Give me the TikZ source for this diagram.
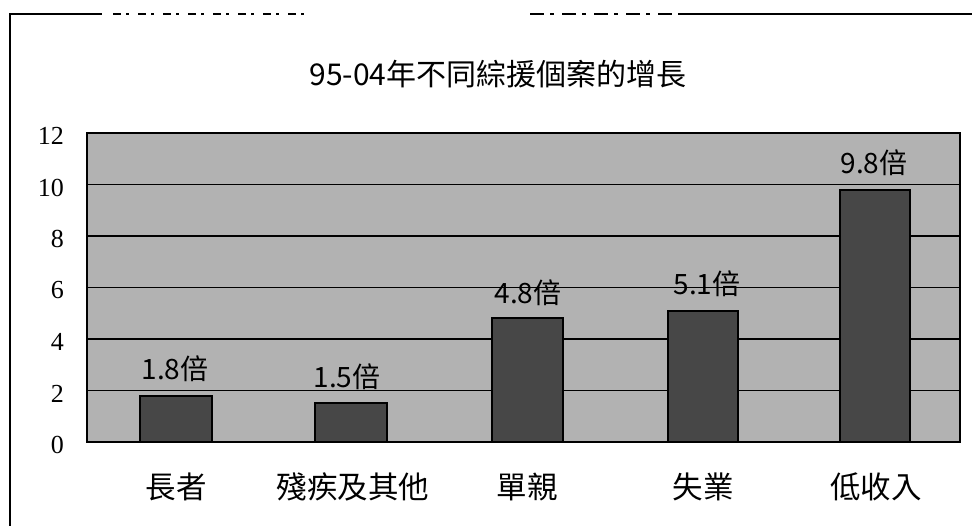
\documentclass[tikz,border=0pt]{standalone}
\usepackage{fontspec}
\setmainfont{Liberation Serif}
\newfontfamily\cjk{Noto Sans CJK TC}
\begin{document}
\begin{tikzpicture}[x=1pt,y=-1pt,
  frameline/.style={line width=1.6pt,black},
  gridline/.style={line width=1.6pt,black},
  plotarea/.style={fill=black!30,draw=black,line width=2pt},
  barbox/.style={fill=black!72,draw=black,line width=2pt},
  ticklab/.style={anchor=east,inner sep=0pt,font=\fontsize{26}{30}\selectfont},
  catlab/.style={inner sep=0pt,font=\cjk\fontsize{30.5}{36}\selectfont},
  vallab/.style={inner sep=0pt,font=\cjk\fontsize{28}{32}\selectfont},
  titlelab/.style={inner sep=0pt,font=\cjk\fontsize{30}{36}\selectfont}]
\useasboundingbox (0,0) rectangle (972,526);
\fill[white] (0,0) rectangle (972,526);
% outer frame fragments
\draw[frameline] (10,526) -- (10,14) -- (102,14);
\draw[line width=2.4pt] (10,278) -- (10,298);
\draw[line width=1.6pt,dash pattern=on 8pt off 5pt on 3pt off 9pt] (113,14) -- (310,14);
\draw[line width=1.6pt,dash pattern=on 14pt off 6pt on 4pt off 8pt] (530,14) -- (680,14);
\draw[line width=1.8pt] (680,14) -- (972,14);
% title
\node[titlelab] (title) at (498,74) {95-04年不同綜援個案的增長};
% plot area
\draw[plotarea] (87,133) rectangle (960,442);
\foreach \v in {2,4,6,8,10} {
  \draw[gridline] (87,{442-25.75*\v}) -- (960,{442-25.75*\v});
}
\draw[line width=2pt] (87,133) rectangle (960,442);
% tick labels
\foreach \v in {0,2,4,6,8,10,12} {
  \node[ticklab] (t\v) at (64,{442-25.75*\v+3}) {\v};
}
% bars
\draw[barbox] (140,442) rectangle (212,{442-25.75*1.8});
\draw[barbox] (315,442) rectangle (387,{442-25.75*1.5});
\draw[barbox] (492,442) rectangle (563,{442-25.75*4.8});
\draw[barbox] (668,442) rectangle (738,{442-25.75*5.1});
\draw[barbox] (840,442) rectangle (910,{442-25.75*9.8});
% value labels
\node[vallab] (v1) at (175,369) {1.8倍};
\node[vallab] (v2) at (347,377) {1.5倍};
\node[vallab] (v3) at (528,293) {4.8倍};
\node[vallab] (v4) at (707,284) {5.1倍};
\node[vallab] (v5) at (874,163) {9.8倍};
% category labels
\node[catlab] (c1) at (176,487) {長者};
\node[catlab] (c2) at (353,487) {殘疾及其他};
\node[catlab] (c3) at (527,487) {單親};
\node[catlab] (c4) at (703,487) {失業};
\node[catlab] (c5) at (876,487) {低收入};
\end{tikzpicture}
\end{document}
